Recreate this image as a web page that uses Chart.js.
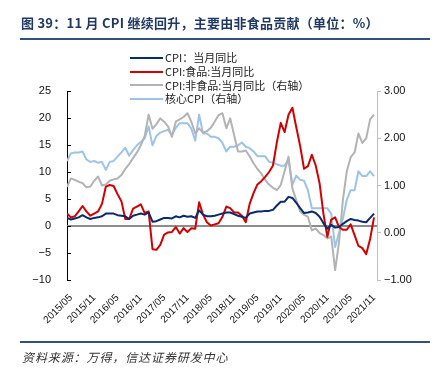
<!DOCTYPE html>
<html><head><meta charset="utf-8">
<script src="https://cdn.jsdelivr.net/npm/chart.js@4.4.0/dist/chart.umd.min.js"></script>
<style>
html,body{margin:0;padding:0;background:#fff}
body{width:438px;height:378px;position:relative;overflow:hidden;font-family:"Noto Sans CJK SC","Liberation Sans",sans-serif}
#c{position:absolute;left:0;top:0}
#title{position:absolute;left:21px;top:15px;font-size:13px;font-weight:bold;color:#1f3864;white-space:nowrap;line-height:16px;letter-spacing:0.25px}
.rule{position:absolute;left:20px;width:410px;height:2px;background:#34507e}
#src{position:absolute;left:22px;top:349px;font-size:12px;font-style:italic;color:#333;white-space:nowrap;line-height:16px;letter-spacing:0.9px}
#legend{position:absolute;left:130px;top:51px;font-size:11px;color:#222;line-height:13.8px}
#legend .it{display:flex;align-items:center;height:13.8px;white-space:nowrap}
#legend .ln{width:33px;height:2px;margin-right:2px}
</style>
</head><body>
<canvas id="c" width="438" height="378"></canvas>
<div id="title">图 39：11 月 CPI 继续回升，主要由非食品贡献（单位：%）</div>
<div class="rule" style="top:38px"></div>
<div id="legend"></div>
<div class="rule" style="top:341px"></div>
<div id="src">资料来源：万得，信达证券研发中心</div>
<script>
// Months 2015/04 .. 2021/11
const months = [
"2015/04","2015/05","2015/06","2015/07","2015/08","2015/09","2015/10","2015/11","2015/12",
"2016/01","2016/02","2016/03","2016/04","2016/05","2016/06","2016/07","2016/08","2016/09","2016/10","2016/11","2016/12",
"2017/01","2017/02","2017/03","2017/04","2017/05","2017/06","2017/07","2017/08","2017/09","2017/10","2017/11","2017/12",
"2018/01","2018/02","2018/03","2018/04","2018/05","2018/06","2018/07","2018/08","2018/09","2018/10","2018/11","2018/12",
"2019/01","2019/02","2019/03","2019/04","2019/05","2019/06","2019/07","2019/08","2019/09","2019/10","2019/11","2019/12",
"2020/01","2020/02","2020/03","2020/04","2020/05","2020/06","2020/07","2020/08","2020/09","2020/10","2020/11","2020/12",
"2021/01","2021/02","2021/03","2021/04","2021/05","2021/06","2021/07","2021/08","2021/09","2021/10","2021/11"];
// Tick labels shown on the x axis
const xTickLabels = ["2015/05","2015/11","2016/05","2016/11","2017/05","2017/11","2018/05","2018/11","2019/05","2019/11","2020/05","2020/11","2021/05","2021/11"];
// Axis ticks
const leftTicks = [-10,-5,0,5,10,15,20,25];
const rightTicks = [-1,0,1,2,3];

// CPI: 当月同比 (left axis)
const cpiYoY = [1.5,1.2,1.4,1.6,2.0,1.6,1.3,1.5,1.6,
1.8,2.3,2.3,2.3,2.0,1.9,1.8,1.3,1.9,2.1,2.3,2.1,
2.5,0.8,0.9,1.2,1.5,1.5,1.4,1.8,1.6,1.9,1.7,1.8,
1.5,2.9,2.1,1.8,1.8,1.9,2.1,2.3,2.5,2.5,2.2,1.9,
1.7,1.5,2.3,2.5,2.7,2.7,2.8,2.8,3.0,3.8,4.5,4.5,
5.4,5.2,4.3,3.3,2.4,2.5,2.7,2.4,1.7,0.5,-0.5,0.2,
-0.3,-0.2,0.4,0.9,1.3,1.1,1.0,0.8,0.7,1.5,2.3];
// CPI:食品:当月同比 (left axis)
const foodYoY = [2.3,1.6,1.8,2.7,3.7,2.7,1.9,2.3,2.7,
4.1,7.3,7.6,7.4,5.9,4.6,1.3,1.3,3.2,3.6,4.0,2.4,
2.7,-4.3,-4.4,-3.5,-1.6,-1.2,-1.1,-0.2,-1.4,-0.4,-1.1,-0.4,
-0.5,4.4,2.1,0.7,0.1,0.3,0.5,1.7,3.6,3.3,2.5,2.5,
1.9,0.7,4.1,6.1,7.7,8.3,9.1,10.0,11.2,15.5,19.1,17.4,
20.6,21.9,18.3,14.8,10.6,11.1,13.2,11.2,7.9,2.2,-2.0,1.2,
1.6,-0.2,-0.7,-0.7,0.3,-1.7,-3.7,-4.1,-5.2,-2.4,1.6];
// CPI:非食品:当月同比 (right axis)
const nonFoodYoY = [0.97,1.15,1.12,1.08,1.05,0.96,0.98,1.10,1.19,
1.00,1.02,1.10,1.13,1.15,1.22,1.35,1.45,1.58,1.70,1.85,2.05,
2.50,2.20,2.30,2.42,2.35,2.25,2.03,2.35,2.40,2.45,2.53,2.35,
2.10,2.21,2.12,2.15,2.22,2.35,2.49,2.53,2.21,2.42,2.07,1.72,
1.72,1.74,1.62,1.47,1.35,1.25,1.12,1.02,0.95,0.90,1.01,1.30,
1.61,0.94,0.69,0.45,0.38,0.34,0.05,0.09,-0.01,-0.05,-0.12,-0.08,
-0.79,-0.20,0.70,1.30,1.60,1.70,2.10,1.90,2.00,2.40,2.50];
// 核心CPI (right axis)
const coreYoY = [1.52,1.68,1.70,1.70,1.72,1.55,1.50,1.52,1.48,
1.50,1.33,1.50,1.52,1.61,1.70,1.80,1.63,1.75,1.85,1.92,2.00,
2.25,1.85,2.05,2.12,2.15,2.18,2.07,2.22,2.32,2.32,2.32,2.20,
1.95,2.50,2.10,2.10,2.03,2.03,2.00,1.90,1.72,1.82,1.82,1.85,
1.91,1.82,1.79,1.72,1.62,1.62,1.62,1.50,1.48,1.45,1.42,1.42,
1.55,1.02,1.21,1.12,1.10,0.90,0.52,0.52,0.52,0.52,0.52,0.40,
-0.30,0.00,0.30,0.70,0.90,0.90,1.30,1.20,1.20,1.30,1.20];

const seriesNames = ["CPI：当月同比","CPI:食品:当月同比","CPI:非食品:当月同比（右轴）","核心CPI（右轴）"];
const seriesColors = ["#0a2a6e","#d40000","#b3b3b3","#9cc3e8"];

const pts = arr => arr.map((v,i)=>({x:i,y:v}));
const xTickIdx = xTickLabels.map(l=>months.indexOf(l));

// HTML legend
const lg = document.getElementById('legend');
seriesNames.forEach((n,i)=>{
  const d=document.createElement('div');d.className='it';
  d.innerHTML='<span class="ln" style="background:'+seriesColors[i]+'"></span><span>'+n+'</span>';
  lg.appendChild(d);
});

const minus = v => (v<0? '\u2212'+Math.abs(v) : ''+v);

const decor = {
  id:'decor',
  beforeDatasetsDraw(chart){
    const {ctx, chartArea:a, scales:{y}} = chart;
    const y0 = Math.round(y.getPixelForValue(0));
    ctx.save();
    ctx.strokeStyle='#8c8c8c'; ctx.lineWidth=2;
    ctx.beginPath(); ctx.moveTo(a.left, y0); ctx.lineTo(a.right, y0); ctx.stroke();
    ctx.restore();
  },
  afterDraw(chart){
    const {ctx, chartArea:a, scales:{y}} = chart;
    ctx.save();
    ctx.strokeStyle='#000'; ctx.lineWidth=1;
    leftTicks.forEach(v=>{
      const p=Math.round(y.getPixelForValue(v))+0.5;
      ctx.beginPath(); ctx.moveTo(a.left, p); ctx.lineTo(a.left+4, p); ctx.stroke();
    });
    ctx.restore();
  }
};

new Chart(document.getElementById('c'), {
  type:'line',
  data:{datasets:[
    {label:seriesNames[0], data:pts(cpiYoY), borderColor:seriesColors[0], borderWidth:2, yAxisID:'y'},
    {label:seriesNames[1], data:pts(foodYoY), borderColor:seriesColors[1], borderWidth:2, yAxisID:'y'},
    {label:seriesNames[2], data:pts(nonFoodYoY), borderColor:seriesColors[2], borderWidth:2, yAxisID:'y2'},
    {label:seriesNames[3], data:pts(coreYoY), borderColor:seriesColors[3], borderWidth:2, yAxisID:'y2'}
  ]},
  options:{
    responsive:false, animation:false, devicePixelRatio:1,
    elements:{point:{radius:0}, line:{tension:0, borderJoinStyle:'round'}},
    layout:{padding:{left:0,right:0,top:91,bottom:0}},
    plugins:{legend:{display:false}, tooltip:{enabled:false}},
    scales:{
      x:{type:'linear', min:0, max:79.77,
        afterBuildTicks:s=>{s.ticks = xTickIdx.map(v=>({value:v}));},
        afterFit:s=>{s.height=98;},
        ticks:{autoSkip:false, maxRotation:45, minRotation:45, padding:4, color:'#111',
          font:{family:'Liberation Sans', size:10},
          callback:v=>months[v]},
        grid:{display:false}, border:{display:false}},
      y:{position:'left', min:-10, max:25,
        afterBuildTicks:s=>{s.ticks = leftTicks.map(v=>({value:v}));},
        afterFit:s=>{s.width=67;},
        ticks:{padding:16, color:'#111', font:{family:'Liberation Sans', size:11}, callback:v=>minus(v)},
        grid:{display:false, drawTicks:false}, border:{color:'#000', width:1}},
      y2:{position:'right', min:-1, max:3,
        afterBuildTicks:s=>{s.ticks = rightTicks.map(v=>({value:v}));},
        afterFit:s=>{s.width=61;},
        ticks:{padding:3, color:'#111', font:{family:'Liberation Sans', size:11},
          callback:v=>(v<0?'\u2212':'')+Math.abs(v).toFixed(2)},
        grid:{display:true, drawOnChartArea:false, drawTicks:true, tickLength:4, color:'#bfbfbf'},
        border:{color:'#bfbfbf', width:1}}
    }
  },
  plugins:[decor]
});
</script>
</body></html>
